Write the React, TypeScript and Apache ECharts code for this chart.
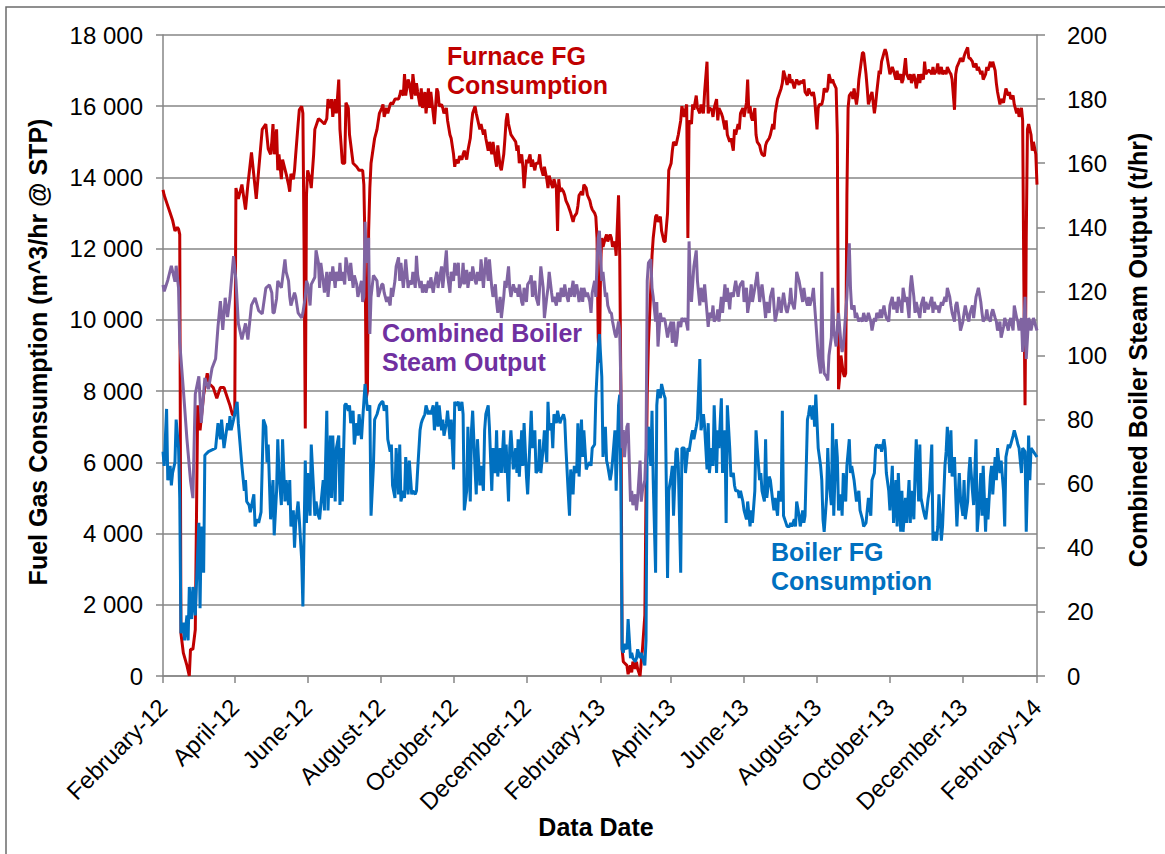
import React, { useEffect, useRef } from "react";
import * as echarts from "echarts";

// x = days since 1 February 2012
const monthNames = ["January","February","March","April","May","June","July","August","September","October","November","December"];
const startUTC = Date.UTC(2012, 1, 1);
const monthTickDays: number[] = Array.from({ length: 13 }, (_, k) => Math.round((Date.UTC(2012, 1 + 2 * k, 1) - startUTC) / 864e5));

const leftTicks = { min: 0, max: 18000, step: 2000 };
const rightTicks = { min: 0, max: 200, step: 20 };

// Furnace FG Consumption (m^3/hr @ STP) — [day, value]
const furnaceFG: [number, number][] = [
[0,13650],[1,13500],[3,13300],[6,13000],[8,12800],[10,12500],[12,12600],[13,12550],[14,12400],[15,1200],[17,650],[20,300],[22,0],[23,750],[25,750],[27,1300],[29,7600],[31,6900],[34,7900],[37,8500],[39,8200],[42,8100],[45,7800],[48,8100],[51,8100],[53,7900],[56,7600],[58,7350],[60,7300],[61,13700],[63,13400],[66,13800],[69,13100],[71,13800],[74,14700],[78,13400],[80,14200],[83,15350],[86,15500],[88,14800],[90,14650],
[91,15000],[92,15500],[93,14650],[95,15350],[96,14200],[97,14650],[99,13950],[100,14500],[103,14100],[105,13800],[106,13600],[107,14100],[109,13950],[110,14200],[111,14650],[113,15500],[114,15900],[116,16000],[117,15800],[118,12000],[119,6950],[120,13500],[121,14200],[123,13950],[124,13700],[126,14650],[127,15350],[130,15650],[132,15600],[135,15500],[137,15650],[138,16200],[140,15950],[141,16200],[142,15700],[144,16200],[145,15800],[147,16750],[148,15350],[149,14900],[150,14400],[152,14400],[153,16100],[155,15950],[156,15200],[159,14400],[162,14300],[164,14200],[167,14200],[168,13800],[169,12000],[170,7800],[171,8000],[172,12500],[173,13700],[174,14400],[177,15100],[179,15350],[181,15800],[183,15950],
[184,16050],[185,15700],[187,15950],[188,15800],[190,16050],[191,16100],[192,16050],[194,16200],[195,16200],[197,16200],[198,16300],[199,16450],[201,16300],[202,16900],[203,16300],[205,16750],[206,16650],[208,16200],[209,16900],[211,16300],[212,16650],[213,16400],[215,16000],[216,16500],[217,15950],[219,16400],[220,15800],[222,16500],[223,15950],[224,16400],[226,15800],[227,15500],[229,16500],[230,16400],[231,16000],[233,16050],[234,15950],[235,15800],[237,15950],[238,15600],[240,15200],[241,15100],[243,14650],[244,14300],[245,14500],[247,14400],[248,14600],[250,14500],[251,14650],[252,14750],[254,14500],[255,14750],[257,15100],[258,15500],[259,15800],[261,16000],[262,15800],[263,15650],[265,15350],[266,15500],[268,15200],[269,15350],[270,15100],[272,14750],[273,15000],[275,14650],
[276,15000],[278,14500],[279,14300],[280,14900],[282,14300],[283,14200],[285,14650],[286,15100],[287,15600],[288,15800],[289,15500],[291,15200],[293,15100],[295,15000],[296,14750],[297,14900],[298,14400],[300,14650],[301,14300],[302,13700],[304,14500],[305,14400],[307,14650],[308,14300],[309,14500],[311,14200],[312,14400],[314,14400],[315,14650],[316,14300],[318,14050],[319,14300],[321,13950],[322,13700],[323,14050],[325,13800],[326,13700],[327,13950],[329,13700],[330,12500],[331,13950],[332,13600],[333,13700],[335,13600],[336,13500],[337,13350],[339,13200],[340,13100],[341,13000],[343,12750],[344,12900],[346,13000],[347,13200],[348,13500],[350,13600],[351,13500],[352,13800],[354,13700],[355,13500],[357,13350],[358,13200],[359,13100],[361,13000],[362,12900],[363,12300],[364,9500],[365,8800],[366,11500],[367,12300],
[368,12050],[370,12300],[371,12400],[372,12200],[374,12400],[375,12300],[376,12050],[378,12200],[379,11800],[381,13500],[382,11800],[383,7900],[384,750],[385,400],[388,300],[389,50],[391,300],[392,100],[393,400],[395,200],[396,400],[397,200],[399,0],[400,400],[401,750],[403,1700],[404,5200],[405,7900],[406,9350],[408,10900],[409,11800],[410,12300],[412,12900],[413,12950],[414,12750],[416,12900],[417,12500],[419,12200],[420,12200],[422,13000],[423,14200],[425,14400],[426,14750],[427,15000],[429,14900],[430,15050],[431,15200],[433,15600],[434,16000],[436,15700],[437,15900],[438,16050],[439,12300],[440,15600],[442,15500],[443,16050],[444,15900],[446,16300],[447,15950],[449,15800],[450,16050],[452,15800],[453,16400],[455,17250],[456,15800],[457,15950],[459,15900],
[460,15700],[461,15950],[463,16200],[464,15600],[465,15950],[467,15800],[468,15700],[470,15350],[471,15600],[472,15200],[474,15000],[475,15100],[477,14750],[478,15350],[479,15200],[481,15500],[482,15350],[483,15800],[485,15950],[486,15700],[488,16100],[489,16750],[490,15800],[491,16000],[492,15700],[493,15600],[495,15950],[496,15200],[497,15000],[499,14900],[500,14750],[501,14650],[503,14600],[504,14900],[505,15000],[507,15100],[508,15200],[510,15500],[511,15350],[512,15800],[514,16200],[515,16300],[517,16500],[518,16650],[519,17000],[521,16750],[522,16600],[524,16900],[525,16650],[526,16750],[528,16500],[529,16650],[530,16750],[532,16600],[533,16700],[535,16650],[536,16750],[537,16400],[539,16300],[540,16500],[541,16400],[543,16300],[544,16400],[545,16200],[547,15350],[548,15950],[549,16050],
[551,16050],[552,16200],[553,16500],[555,16400],[556,16500],[557,16900],[559,16650],[560,16750],[561,16650],[563,16500],[564,15200],[565,8050],[566,8400],[567,9000],[569,8500],[570,8400],[571,8500],[572,13500],[573,15950],[574,16300],[576,16400],[577,16200],[578,16500],[580,16050],[581,16300],[582,16750],[584,17250],[585,17500],[586,17500],[588,16900],[589,16500],[590,16050],[592,16300],[593,16400],[595,15800],[596,16050],[597,16400],[599,17000],[600,16900],[601,17250],[603,17500],[604,17600],[605,17500],[607,17100],[608,16900],[610,17100],[611,17000],[613,16750],[614,17000],[615,16750],[617,16900],[618,16650],[619,16750],[621,17350],[622,16900],[624,16750],[625,16900],[626,16650],[628,16900],[629,16750],[630,16500],[632,16900],[633,16650],[634,16900],[636,16750],[637,17250],[638,16900],[640,17000],
[641,17000],[643,16900],[644,17100],[645,16900],[647,17000],[648,17200],[649,16900],[651,17100],[652,16900],[654,17000],[655,16900],[656,17100],[658,16950],[659,16900],[660,16750],[662,15900],[663,16900],[664,17100],[666,17250],[667,17350],[669,17250],[670,17400],[671,17500],[673,17650],[674,17350],[675,17350],[677,17250],[678,17100],[680,17200],[681,17000],[682,17100],[684,16900],[685,17000],[686,16750],[688,16900],[689,17100],[690,17000],[692,17250],[693,17100],[694,17250],[696,17000],[697,16650],[698,16400],[700,16050],[701,16200],[703,16100],[704,16300],[705,16500],[707,16300],[708,16400],[709,16200],[711,16300],[712,16050],[714,15800],[715,15950],[716,15700],[718,15950],[719,15600],[720,11100],[721,7600],[722,12300],[723,15350],[724,15500],[726,15200],[727,14750],[728,15000],[730,14650],[731,13800]
];

// Boiler FG Consumption (m^3/hr @ STP) — [day, value]
const boilerFG: [number, number][] = [
[0,6300],[1,5900],[3,7500],[4,5500],[6,5900],[7,5350],[8,5700],[10,6000],[11,7200],[13,6400],[14,5000],[15,1200],[17,1500],[18,1000],[20,1700],[21,1000],[22,2500],[24,1600],[25,2500],[27,1700],[28,2600],[30,4300],[31,1900],[32,4200],[34,2900],[35,6200],[38,6300],[41,6350],[44,6400],[46,7100],[48,6650],[49,7200],[51,6400],[54,7100],[55,6900],[56,7300],[57,6900],[59,7200],[62,7700],[63,7100],[66,5900],[68,5200],[69,5500],[70,4900],[72,4800],[73,4600],[76,5100],[77,4200],[79,4400],[80,4300],[82,4600],[84,7200],[86,7000],[87,6000],[88,6500],[90,4400],
[91,5000],[92,5500],[93,3950],[95,5200],[96,6650],[97,5700],[99,4800],[100,6650],[102,4900],[103,5500],[105,4800],[106,5500],[107,4200],[109,4650],[110,3600],[111,4300],[113,4900],[114,4400],[116,3250],[117,1950],[119,6050],[120,4300],[121,5700],[123,4500],[124,6500],[126,5200],[127,4500],[128,4900],[130,4500],[131,4400],[132,4800],[134,5500],[135,4650],[137,7450],[138,4650],[140,6750],[141,5000],[142,6750],[144,4900],[145,6400],[147,6750],[148,4800],[149,6400],[150,4900],[152,7600],[153,7650],[155,7450],[156,7600],[157,7100],[159,7450],[160,6500],[162,7100],[163,6750],[164,7350],[166,6650],[167,7200],[168,7700],[169,8200],[171,7450],[173,7600],[174,4500],[176,5900],[177,7200],[179,7350],[181,7600],[183,7700],
[184,7700],[185,7450],[187,7600],[188,6650],[190,6300],[191,6500],[192,5350],[194,5000],[195,6400],[197,5100],[198,6500],[199,4900],[201,5200],[202,5000],[203,6150],[205,5100],[206,6050],[208,5100],[209,5200],[211,5100],[212,5200],[213,5800],[215,6900],[216,7100],[217,7200],[219,7350],[220,7600],[222,7350],[223,7450],[224,7350],[226,7600],[227,6900],[229,7700],[230,7000],[231,7600],[233,6900],[234,7200],[235,6750],[237,7100],[238,7450],[240,6650],[241,7200],[243,5800],[244,7700],[245,7600],[247,7700],[248,7450],[250,7700],[251,7350],[252,4650],[254,5200],[255,7000],[257,4900],[258,6900],[259,7450],[261,5800],[262,5100],[263,6650],[265,5350],[266,5900],[268,5200],[269,6900],[270,7350],[272,7600],[273,7000],[275,5200],
[276,6400],[278,5700],[279,6900],[280,5600],[282,6400],[283,5700],[285,6900],[286,5700],[287,6500],[289,4900],[290,6400],[291,6900],[293,5800],[295,6400],[296,5700],[297,6650],[298,5600],[300,6900],[301,5900],[302,7100],[304,5600],[305,5100],[307,6650],[308,7450],[309,6400],[311,6900],[312,5700],[314,5800],[315,6650],[316,5700],[318,6400],[319,6900],[321,6000],[322,7700],[323,6900],[325,7100],[326,6400],[327,7350],[329,7100],[330,7450],[332,7100],[333,7200],[335,7350],[336,7200],[337,6400],[339,5100],[340,4500],[341,5800],[343,5100],[344,5900],[346,5700],[347,7100],[348,5600],[350,7200],[351,6150],[352,6900],[354,5800],[355,5900],[357,6000],[358,5900],[359,6400],[361,6500],[362,7800],[364,9200],[365,9600],
[367,8400],[368,6150],[370,7000],[371,6050],[372,5900],[374,5500],[375,5700],[376,6050],[378,6900],[379,5200],[381,7600],[382,7900],[383,5200],[384,750],[385,650],[386,900],[388,750],[389,1600],[391,500],[392,650],[393,500],[395,400],[396,500],[397,750],[399,500],[400,650],[403,300],[404,1000],[405,6650],[406,7000],[408,5900],[409,7450],[410,5500],[412,2900],[413,7600],[414,8050],[416,7800],[417,8200],[419,7900],[420,7800],[422,2750],[423,5200],[425,5600],[426,5900],[427,4500],[429,6300],[430,6400],[431,5900],[433,2900],[434,6400],[436,6400],[437,5700],[439,6400],[440,6300],[442,6750],[443,6900],[444,6650],[446,7000],[447,7200],[449,8900],[450,6900],[452,7350],[453,7000],[455,5800],[456,7100],[457,5700],[459,6400],
[460,5900],[461,7600],[463,5700],[464,6900],[465,6400],[467,7800],[468,5700],[470,6900],[471,4300],[472,7600],[474,6400],[475,5600],[477,5700],[478,5350],[479,5200],[481,5200],[482,5000],[483,5200],[485,4900],[486,4650],[488,4400],[489,4900],[491,4200],[492,4650],[493,4300],[495,5200],[496,6900],[497,6400],[499,5500],[500,5700],[501,5200],[503,4900],[504,6650],[505,5000],[507,5600],[508,5500],[510,4900],[511,4650],[512,5000],[514,4500],[515,5200],[517,4900],[518,7450],[519,4500],[521,4300],[522,4200],[524,4200],[525,4300],[526,4200],[528,4400],[529,4200],[530,4900],[532,4500],[533,4200],[535,4650],[536,4300],[537,4500],[539,7200],[540,7350],[541,7600],[543,7200],[544,7600],[545,7000],[546,7900],[548,6400],[550,5900],
[551,5500],[552,4400],[553,4050],[555,5000],[556,6400],[557,5500],[559,4800],[560,7100],[561,4500],[563,6650],[564,6150],[565,4650],[567,5100],[568,4500],[569,5700],[571,4900],[572,5900],[574,6650],[575,5700],[576,5900],[578,5500],[579,5200],[580,4900],[582,5200],[583,4650],[585,4400],[586,4200],[588,4300],[589,4650],[590,5000],[592,4500],[593,5500],[595,5700],[596,6400],[597,6500],[599,6400],[600,6500],[601,6300],[603,6650],[604,6400],[605,5700],[607,5200],[608,4650],[610,5900],[611,4300],[613,5500],[614,4200],[615,5700],[617,4050],[618,5200],[619,4050],[621,5000],[622,4300],[624,5500],[625,4300],[626,5200],[628,4400],[629,5700],[630,6650],[632,4900],[633,6500],[634,5000],[636,4650],[637,4500],[638,4400],[640,5000],
[641,5200],[643,6500],[644,3800],[645,4050],[647,3800],[648,4200],[649,5100],[651,3800],[652,4200],[654,5900],[655,6300],[656,7000],[658,5700],[659,6900],[660,5600],[662,6150],[663,5100],[664,4200],[666,5700],[667,5000],[669,4500],[670,5500],[671,4400],[673,4900],[674,5700],[675,6150],[677,5200],[678,4800],[680,6650],[681,4050],[682,4500],[684,5700],[685,4500],[686,5900],[688,4050],[689,5000],[690,4400],[692,5600],[693,5900],[694,5100],[696,6150],[697,5500],[698,6400],[700,5700],[701,6050],[703,5200],[704,4200],[705,6150],[707,6500],[708,6400],[709,6500],[711,6750],[712,6900],[714,6650],[715,6500],[716,6400],[718,5700],[719,6400],[721,6300],[722,4050],[724,6750],[725,5500],[726,6400],[728,6300],[731,6150]
];

// Combined Boiler Steam Output (t/hr) — [day, value]
const steamOutput: [number, number][] = [
[0,122],[1,120],[4,123.5],[7,128],[10,123],[11,128],[13,121],[14,104],[17,89.5],[20,74],[23,61],[25,55.5],[27,88],[30,93.5],[32,79],[35,93],[38,89.5],[41,96],[44,99],[46,109],[48,117],[50,108],[52,118],[54,112],[56,118],[59,131],[61,123.5],[63,110],[66,105],[69,110],[71,105],[74,115.7],[77,118],[80,114],[83,113],[86,121],[89,122],
[91,119.6],[92,113.3],[93,113.3],[95,117.8],[96,123.3],[99,121.1],[102,130],[103,126.1],[105,123.3],[106,118.3],[107,115.6],[110,119.6],[111,118.3],[113,113.3],[116,111.7],[117,113.3],[119,118.3],[120,123.3],[121,122.2],[123,115.6],[124,122.2],[127,124.4],[128,132.8],[130,128.9],[131,121.1],[132,128.9],[134,123.3],[135,119.6],[137,126.1],[138,118.3],[140,126.1],[141,123.3],[142,127.8],[144,121.1],[145,126.1],[147,123.3],[148,128.9],[149,123.3],[150,126.1],[152,122.2],[153,130.6],[155,126.1],[156,123.3],[157,128.9],[159,121.1],[160,125],[162,122.2],[163,118.3],[166,123.3],[167,116.7],[168,118.3],[169,141.7],[170,128.9],[172,136.7],[173,106.7],[174,118.3],[176,125],[179,123.3],[180,118.3],[183,122.2],
[184,122.2],[185,119.6],[187,116.7],[188,118.3],[190,115.6],[191,121.1],[192,118.3],[194,123.3],[195,127.8],[197,130.6],[198,123.3],[199,128.9],[201,121.1],[202,125],[203,130],[205,121.1],[206,123.3],[208,122.2],[209,126.1],[211,121.1],[212,131.1],[213,125],[215,121.1],[216,123.3],[217,119.6],[219,122.2],[220,119.6],[222,123.3],[223,121.1],[224,124.4],[226,119.6],[227,122.2],[229,126.1],[230,121.1],[231,123.3],[233,127.8],[234,121.1],[235,125],[237,132.8],[238,125],[240,119.6],[241,126.1],[243,123.3],[244,128.9],[245,125],[247,128.9],[248,121.1],[250,123.3],[251,128.9],[252,122.2],[254,126.7],[255,121.1],[257,126.1],[258,123.3],[259,127.8],[261,123.3],[262,122.2],[263,126.1],[265,123.3],[266,130],[268,121.1],[269,126.1],[270,130.6],[272,123.3],[273,130],[275,121.1],
[276,118.3],[278,122.2],[279,116.7],[280,113.3],[282,118.3],[283,111.7],[285,118.3],[286,123.3],[287,121.1],[289,127.8],[290,121.1],[291,118.3],[293,122.2],[295,119.6],[296,121.1],[297,118.3],[298,122.2],[300,116.7],[301,115.6],[302,121.1],[304,116.7],[305,122.2],[307,123.3],[308,125],[309,118.3],[311,123.3],[312,118.3],[314,115.6],[315,121.1],[316,127.8],[318,121.1],[319,111.7],[321,118.3],[322,121.1],[323,126.1],[325,119.6],[326,116.7],[327,118.3],[329,115.6],[330,119.6],[332,116.7],[333,121.1],[335,118.3],[336,122.2],[337,119.6],[339,116.7],[340,121.1],[341,118.3],[343,123.3],[344,118.3],[346,122.2],[347,119.6],[348,116.7],[350,121.1],[351,116.7],[352,121.1],[354,118.3],[355,119.6],[357,116.7],[358,113.3],[359,119.6],[361,123.3],[362,118.3],[363,128.9],[364,136.7],[365,138.9],[367,123.3],
[368,126.1],[370,118.3],[371,119.6],[372,115.6],[374,113.3],[375,113.3],[376,110.6],[378,106.7],[379,105.6],[381,110.6],[382,107.8],[384,71.1],[385,76.7],[386,68.3],[388,77.8],[389,78.9],[391,54.4],[392,57.8],[393,53.3],[395,56.7],[396,51.7],[397,55.6],[399,67.2],[400,54.4],[401,57.8],[403,61.1],[404,71.1],[405,123.3],[406,128.9],[408,130],[409,121.1],[410,118.3],[412,110.6],[413,116.7],[414,102.8],[416,113.3],[417,110.6],[419,111.7],[420,110.6],[422,105.6],[423,107.8],[425,110.6],[426,103.9],[427,110.6],[429,102.8],[430,105.6],[431,110.6],[433,108.9],[434,111.7],[436,110.6],[437,111.7],[439,107.8],[440,135.6],[441,123.3],[442,116.7],[444,127.8],[446,132.8],[447,123.3],[449,115.6],[450,121.1],[452,116.7],[453,122.2],[455,113.3],[456,108.9],[457,113.3],[459,111.7],
[460,115.6],[461,110.6],[463,111.7],[464,114.4],[465,110.6],[467,118.3],[468,113.3],[470,122.2],[471,116.7],[472,121.1],[474,114.4],[475,119.6],[477,118.3],[478,121.1],[479,123.3],[481,118.3],[482,121.1],[483,122.2],[485,123.3],[486,116.7],[488,121.1],[489,113.3],[491,118.3],[492,122.2],[493,116.7],[495,121.1],[496,123.3],[497,126.1],[499,116.7],[500,119.6],[501,122.2],[503,115.6],[504,111.7],[505,116.7],[507,113.3],[508,118.3],[510,121.1],[511,115.6],[512,110.6],[514,114.4],[515,118.3],[517,113.3],[518,116.7],[519,119.6],[521,114.4],[522,113.3],[524,116.7],[525,121.1],[526,116.7],[528,114.4],[529,118.3],[530,126.1],[532,123.3],[533,121.1],[535,116.7],[536,121.1],[537,118.3],[539,115.6],[540,118.3],[541,115.6],[543,118.3],[544,121.1],[545,115.6],[546,110.6],[548,100],[550,94.4],
[551,126.1],[552,98.9],[553,94.4],[555,93.3],[556,92.2],[557,100],[559,105.6],[560,121.1],[561,107.8],[563,102.8],[564,108.9],[565,113.3],[567,103.9],[568,101.1],[569,102.8],[571,113.3],[572,118.3],[574,135],[575,121.1],[576,114.4],[578,115.6],[579,111.7],[580,113.3],[582,110.6],[583,111.7],[585,110.6],[586,113.3],[588,110.6],[589,111.7],[590,113.3],[592,110.6],[593,107.8],[595,111.7],[596,110.6],[597,113.3],[599,111.7],[600,114.4],[601,111.7],[603,115.6],[604,113.3],[605,111.7],[607,110.6],[608,115.6],[610,118.3],[611,114.4],[613,116.7],[614,113.3],[615,118.3],[617,115.6],[618,113.3],[619,121.1],[621,116.7],[622,118.3],[624,111.7],[625,121.1],[626,125],[628,118.3],[629,113.3],[630,116.7],[632,113.3],[633,111.7],[634,115.6],[636,118.3],[637,113.3],[638,116.7],[640,114.4],
[641,115.6],[643,118.3],[644,113.3],[645,116.7],[647,114.4],[648,115.6],[649,113.3],[651,116.7],[652,115.6],[654,118.3],[655,116.7],[656,121.1],[658,118.3],[659,115.6],[660,113.3],[662,110.6],[663,115.6],[664,116.7],[666,111.7],[667,107.8],[669,110.6],[670,113.3],[671,115.6],[673,111.7],[674,110.6],[675,113.3],[677,115.6],[678,111.7],[680,118.3],[681,119.6],[682,121.1],[684,116.7],[685,113.3],[686,110.6],[688,111.7],[689,114.4],[690,111.7],[692,110.6],[693,113.3],[694,114.4],[696,111.7],[697,110.6],[698,107.8],[700,110.6],[701,105.6],[703,108.9],[704,111.7],[705,110.6],[707,107.8],[708,110.6],[709,111.7],[711,107.8],[712,115.6],[714,111.7],[715,110.6],[716,107.8],[718,111.7],[719,101.1],[721,118.3],[722,98.9],[724,111.7],[725,110.6],[726,107.8],[728,111.7],[731,107.8]
];

const FONT = "'Liberation Sans', Arial, Helvetica, sans-serif";
const AXIS_GRAY = "#868686";
const RED = "#C00000";
const BLUE = "#0070C0";
const PURPLE_LINE = "#8064A2";
const PURPLE_TEXT = "#7030A0";

function fmtThousands(v: number): string {
  if (v < 1000) return String(v);
  return `${Math.floor(v / 1000)} ${String(v % 1000).padStart(3, "0")}`;
}

function fmtMonth(day: number): string {
  const d = new Date(startUTC + Math.round(day) * 864e5);
  return `${monthNames[d.getUTCMonth()]}-${String(d.getUTCFullYear()).slice(2)}`;
}

export default function App() {
  const ref = useRef<HTMLDivElement>(null);
  useEffect(() => {
    if (!ref.current) return;
    const chart = echarts.init(ref.current, null, { renderer: "svg" });
    const axisLine = { show: true, lineStyle: { color: AXIS_GRAY, width: 1.5 } };
    const annotation = (x: number, y: number, text: string, color: string) => ({
      type: "text", x, y,
      style: { text, fill: color, font: `bold 25px ${FONT}`, align: "left", verticalAlign: "top", lineHeight: 29 },
    });
    const lineSeries = (name: string, data: [number, number][], color: string, yAxisIndex: number, z: number) => ({
      name, type: "line", yAxisIndex, data, showSymbol: false, symbol: "none",
      lineStyle: { color, width: 3 }, itemStyle: { color }, z,
    });
    chart.setOption({
      animation: false,
      backgroundColor: "#ffffff",
      grid: { left: 163, right: 128, top: 35, bottom: 178, containLabel: false, outerBoundsMode: "none" },
      xAxis: {
        type: "value", min: 0, max: monthTickDays[monthTickDays.length - 1],
        axisLine,
        axisTick: { show: true, length: 7, lineStyle: { color: AXIS_GRAY, width: 1.5 }, customValues: monthTickDays },
        axisLabel: { customValues: monthTickDays, rotate: 45, margin: 27, fontSize: 24, fontFamily: FONT, color: "#000", formatter: (v: number) => fmtMonth(v) },
        splitLine: { show: false },
      },
      yAxis: [
        {
          type: "value", min: leftTicks.min, max: leftTicks.max, interval: leftTicks.step,
          axisLine,
          axisTick: { show: true, length: 7, lineStyle: { color: AXIS_GRAY, width: 1.5 } },
          axisLabel: { margin: 20, fontSize: 24, fontFamily: FONT, color: "#000", formatter: (v: number) => fmtThousands(v) },
          splitLine: { show: true, lineStyle: { color: AXIS_GRAY, width: 1.5 } },
        },
        {
          type: "value", position: "right", min: rightTicks.min, max: rightTicks.max, interval: rightTicks.step,
          axisLine,
          axisTick: { show: true, length: 8, lineStyle: { color: AXIS_GRAY, width: 1.5 } },
          axisLabel: { margin: 30, fontSize: 24, fontFamily: FONT, color: "#000" },
          splitLine: { show: false },
        },
      ],
      series: [
        lineSeries("Furnace FG Consumption", furnaceFG, RED, 0, 2),
        lineSeries("Boiler FG Consumption", boilerFG, BLUE, 0, 3),
        lineSeries("Combined Boiler Steam Output", steamOutput, PURPLE_LINE, 1, 4),
      ],
      graphic: [
        { type: "rect", silent: true, shape: { x: 6, y: 7, width: 1200, height: 900 }, style: { fill: "none", stroke: "#6b6b6b", lineWidth: 1.5 } },
        { type: "text", x: 38, y: 352, rotation: Math.PI / 2, style: { text: "Fuel Gas Consumption (m^3/hr @ STP)", fill: "#000", font: `bold 25px ${FONT}`, align: "center", verticalAlign: "middle" } },
        { type: "text", x: 1138, y: 350, rotation: Math.PI / 2, style: { text: "Combined Boiler Steam Output (t/hr)", fill: "#000", font: `bold 25px ${FONT}`, align: "center", verticalAlign: "middle" } },
        { type: "text", x: 596, y: 827, style: { text: "Data Date", fill: "#000", font: `bold 25px ${FONT}`, align: "center", verticalAlign: "middle" } },
        annotation(447, 41, "Furnace FG\nConsumption", RED),
        annotation(382, 318, "Combined Boiler\nSteam Output", PURPLE_TEXT),
        annotation(771, 537, "Boiler FG\nConsumption", BLUE),
      ],
    });
    return () => chart.dispose();
  }, []);
  return <div ref={ref} style={{ position: "absolute", left: 0, top: 0, width: 1165, height: 854, background: "#fff" }} />;
}
